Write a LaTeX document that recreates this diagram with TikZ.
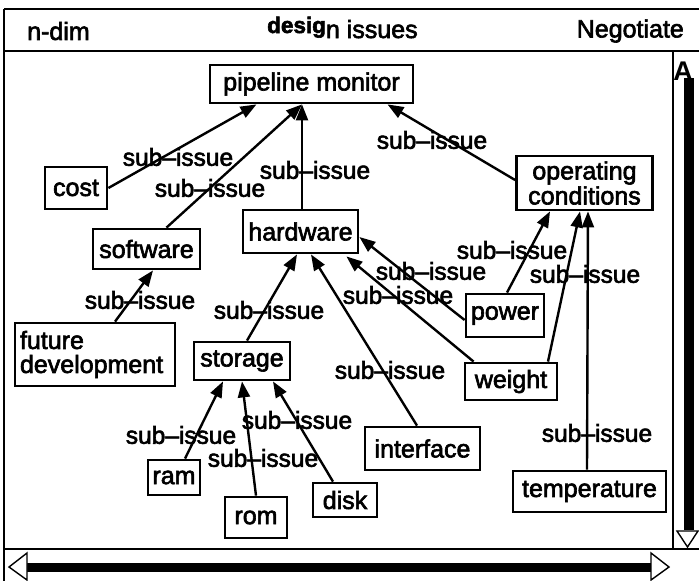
\documentclass[tikz,border=0pt]{standalone}
\usepackage{fontspec}
\setmainfont{Liberation Sans}
\newfontfamily\heavyfont{Liberation Sans}[FakeBold=2.5]
\usetikzlibrary{arrows.meta}
\begin{document}
\begin{tikzpicture}[x=1pt,y=-1pt,
  issuebox/.style={draw, line width=2.8pt, inner sep=0pt, align=center,
    font=\heavyfont\fontsize{25}{25}\selectfont},
  sublabel/.style={inner sep=0pt, font=\heavyfont\fontsize{24.5}{26}\selectfont},
  link/.style={line width=2.4pt, -{Triangle[length=16pt,width=12pt]}},
  chrome/.style={line width=2.6pt},
  thinchrome/.style={line width=1.4pt},
  titletext/.style={inner sep=0pt, font=\heavyfont\fontsize{25}{25}\selectfont}]
\useasboundingbox (0,0) rectangle (699,581);

% window frame and title bar
\draw[chrome] (4,9) -- (699,9);
\draw[chrome] (4,51) -- (699,51);
\draw[thinchrome] (4,9) -- (4,581);
\draw[thinchrome] (673,51) -- (673,549);
\draw[chrome] (4,549) -- (699,549);
\node[titletext, anchor=west] (tdim) at (27,31) {n-dim};
\node[titletext, anchor=base west] (tissues) at (267,38)
  {\raisebox{5pt}{\fontsize{22.5}{22}\selectfont\bfseries desig}n issues};
\node[titletext, anchor=east] (tneg) at (684,31) {Negotiate};

% vertical scroll bar
\fill (684,78) rectangle (694,530);
\node[inner sep=0pt, font=\fontsize{27}{27}\selectfont\bfseries] (vup) at (683,71) {A};
\draw[thinchrome, fill=white] (677,531) -- (698,531) -- (687.5,547) -- cycle;

% horizontal scroll bar
\fill (27,563) rectangle (651,572);
\draw[thinchrome, fill=white] (27,553) -- (9,567) -- (27,580) -- cycle;
\draw[thinchrome, fill=white] (651,553) -- (669,567) -- (651,580) -- cycle;

% issue nodes
\node[issuebox, minimum width=203pt, minimum height=38pt] (pm) at (311.5,84) {pipeline monitor};
\node[issuebox, minimum width=62pt, minimum height=42pt] (cost) at (76,188) {cost};
\node[issuebox, minimum width=107pt, minimum height=40pt] (software) at (146.5,249) {software};
\node[issuebox, minimum width=115pt, minimum height=43pt] (hardware) at (300.5,231.5) {hardware};
\node[issuebox, minimum width=136pt, minimum height=54pt] (opcond) at (584.5,183) {operating\\conditions};
\node[issuebox, minimum width=160pt, minimum height=63pt, align=left, text width=150pt,
  font=\heavyfont\fontsize{25}{24}\selectfont] (future) at (95,354.5) {future\\development};
\node[issuebox, minimum width=96pt, minimum height=38pt] (storage) at (242,361) {storage};
\node[issuebox, minimum width=78pt, minimum height=43pt] (power) at (505,315.5) {power};
\node[issuebox, minimum width=92pt, minimum height=37pt] (weight) at (511,381.5) {weight};
\node[issuebox, minimum width=115pt, minimum height=43pt] (interface) at (422.5,448.5) {interface};
\node[issuebox, minimum width=52pt, minimum height=35pt] (ram) at (174,477.5) {ram};
\node[issuebox, minimum width=62pt, minimum height=41pt] (rom) at (256,517.5) {rom};
\node[issuebox, minimum width=64pt, minimum height=34pt] (disk) at (345,500) {disk};
\node[issuebox, minimum width=153pt, minimum height=41pt] (temperature) at (589.5,491.5) {temperature};

% sub-issue links, child to parent
\draw[link] (cost.east) -- ([xshift=-55pt]pm.south);
\draw[link] ([xshift=20pt]software.north) -- ([xshift=-9.5pt]pm.south);
\draw[link] ([xshift=1.5pt]hardware.north) -- ([xshift=-9.5pt]pm.south);
\draw[link] ([yshift=3pt]opcond.west) -- ([xshift=76pt]pm.south);
\draw[link] ([xshift=20pt]future.north) -- ([xshift=6.5pt]software.south);
\draw[link] ([xshift=5pt]storage.north) -- ([xshift=-3.5pt]hardware.south);
\draw[link] ([xshift=-5.5pt]interface.north) -- ([xshift=10.5pt]hardware.south);
\draw[link] ([yshift=-4.5pt]power.west) -- ([yshift=-5.5pt]hardware.east);
\draw[link] ([xshift=10pt]weight.north west) -- ([xshift=-13pt,yshift=-2pt]hardware.south east);
\draw[link] ([xshift=2pt]power.north) -- ([xshift=-34.5pt]opcond.south);
\draw[link] ([xshift=37pt]weight.north) -- ([xshift=-4.5pt]opcond.south);
\draw[link] ([xshift=-2.5pt]temperature.north) -- ([xshift=3.5pt]opcond.south);
\draw[link] ([xshift=11pt]ram.north) -- ([xshift=-19pt]storage.south);
\draw[link] (rom.north) -- (storage.south);
\draw[link] ([xshift=-12pt]disk.north) -- ([xshift=31pt]storage.south);

% link labels
\node[sublabel] (l1) at (178,157) {sub–issue};
\node[sublabel] (l2) at (210,188) {sub–issue};
\node[sublabel] (l3) at (315,170) {sub–issue};
\node[sublabel] (l4) at (432,140) {sub–issue};
\node[sublabel] (l5) at (140,300) {sub–issue};
\node[sublabel] (l6) at (269,310) {sub–issue};
\node[sublabel] (l7) at (390,370) {sub–issue};
\node[sublabel] (l8) at (431,271) {sub–issue};
\node[sublabel] (l9) at (398,295) {sub–issue};
\node[sublabel] (l10) at (512,250) {sub–issue};
\node[sublabel] (l11) at (585,274) {sub–issue};
\node[sublabel] (l12) at (597,433) {sub–issue};
\node[sublabel] (l13) at (181,435) {sub–issue};
\node[sublabel] (l14) at (263,458) {sub–issue};
\node[sublabel] (l15) at (297,420) {sub–issue};
\end{tikzpicture}
\end{document}
